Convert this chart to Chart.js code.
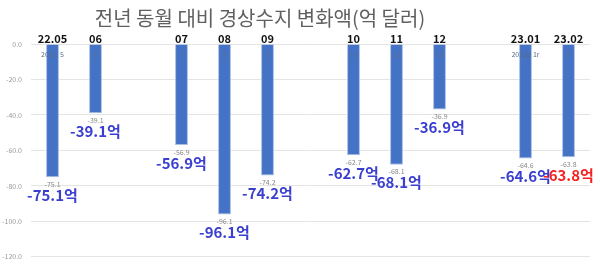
<!DOCTYPE html>
<html>
<head>
<meta charset="utf-8">
<script src="https://cdn.jsdelivr.net/npm/chart.js@4.4.0/dist/chart.umd.min.js"></script>
<style>
  html, body { margin: 0; padding: 0; background: #fff; }
  #wrap { width: 600px; height: 270px; position: relative; }
</style>
</head>
<body>
<div id="wrap"><canvas id="bop-chart"></canvas></div>
<script>
  // data (empty slots are gaps between groups)
  const categories = ['22.05', '06', '', '07', '08', '09', '', '10', '11', '12', '', '23.01', '23.02'];
  const innerLabels = ['2022. 5', '6', '', '7', '8', '9', '', '10', '11', '12', '', '2023p 1r', '2'];
  const changeValues = [-75.1, -39.1, null, -56.9, -96.1, -74.2, null, -62.7, -68.1, -36.9, null, -64.6, -63.8];
  const yTicks = [0, -20, -40, -60, -80, -100, -120];

  const titleText = '전년 동월 대비 경상수지 변화액(억 달러)';
  const FONT = '"Noto Sans CJK KR", "Noto Sans", sans-serif';

  // draws the title and the several label layers on top of the bars
  const labelPlugin = {
    id: 'barLabels',
    afterDatasetsDraw(chart) {
      const ctx = chart.ctx;
      const meta = chart.getDatasetMeta(0);
      const lastIdx = changeValues.length - 1;

      ctx.save();
      ctx.textAlign = 'center';
      ctx.textBaseline = 'middle';

      // title
      ctx.fillStyle = '#606060';
      ctx.font = '20px ' + FONT;
      ctx.fillText(titleText, 260, 18);

      meta.data.forEach((bar, i) => {
        const v = changeValues[i];
        if (v === null) return;

        // category label above the bars
        ctx.fillStyle = '#111';
        ctx.font = 'bold 11px ' + FONT;
        ctx.fillText(categories[i], bar.x, 39);

        // original axis label sitting inside the bar
        ctx.fillStyle = '#5a6d8f';
        ctx.font = '7px ' + FONT;
        ctx.fillText(innerLabels[i], bar.x, bar.base + 10);

        // small value label right under the bar
        ctx.fillStyle = '#888';
        ctx.fillText(v.toFixed(1), bar.x, bar.y + 7);

        // big value label
        ctx.fillStyle = i === lastIdx ? '#f52222' : '#3a3fd0';
        ctx.font = 'bold 15px ' + FONT;
        ctx.fillText(v.toFixed(1) + '억', bar.x, bar.y + 18);
      });
      ctx.restore();
    }
  };

  new Chart(document.getElementById('bop-chart'), {
    type: 'bar',
    data: {
      labels: categories,
      datasets: [{
        data: changeValues,
        backgroundColor: '#4472c4',
        borderColor: '#a9bfe6',
        borderWidth: 1,
        barPercentage: 0.3,
        categoryPercentage: 1
      }]
    },
    options: {
      responsive: true,
      maintainAspectRatio: false,
      animation: false,
      layout: { padding: { top: 44, right: 10, bottom: 10, left: 0 } },
      plugins: {
        legend: { display: false },
        tooltip: { enabled: false }
      },
      scales: {
        x: { display: false },
        y: {
          min: -120,
          max: 0,
          afterBuildTicks(scale) {
            scale.ticks = yTicks.map(v => ({ value: v }));
          },
          afterFit(scale) { scale.width = 31; },
          border: { display: false },
          grid: { color: '#e4e4e4', drawTicks: false },
          ticks: {
            padding: 9,
            color: '#999',
            font: { size: 7, family: FONT },
            callback: v => v.toFixed(1)
          }
        }
      }
    },
    plugins: [labelPlugin]
  });
</script>
</body>
</html>
